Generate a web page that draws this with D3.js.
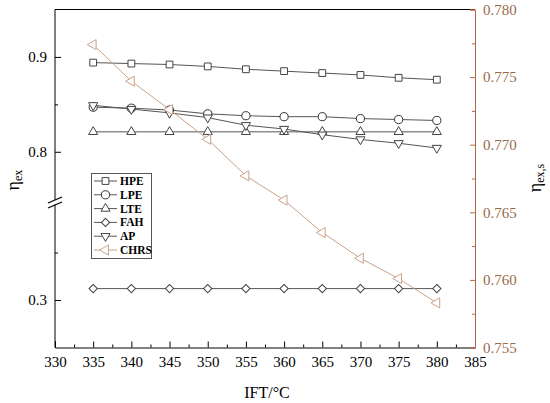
<!DOCTYPE html>
<html>
<head>
<meta charset="utf-8">
<script src="https://cdn.jsdelivr.net/npm/d3@7"></script>
<style>
  body { margin: 0; background: #fff; }
  svg text { font-family: "Liberation Serif", "Times New Roman", serif; }
</style>
</head>
<body>
<svg id="chart" width="550" height="403"></svg>
<script>
// data
var ift = [335, 340, 345, 350, 355, 360, 365, 370, 375, 380];
var hpe = [0.894, 0.893, 0.892, 0.890, 0.887, 0.885, 0.883, 0.881, 0.878, 0.876];
var lpe = [0.847, 0.846, 0.844, 0.840, 0.838, 0.837, 0.837, 0.835, 0.834, 0.833];
var lte = [0.821, 0.821, 0.821, 0.821, 0.821, 0.821, 0.821, 0.821, 0.821, 0.821];
var fah = [0.312, 0.312, 0.312, 0.312, 0.312, 0.312, 0.312, 0.312, 0.312, 0.312];
var ap = [0.849, 0.845, 0.841, 0.836, 0.828, 0.824, 0.818, 0.813, 0.809, 0.804];
var chrs = [0.7774, 0.7747, 0.7726, 0.7704, 0.7677, 0.7659, 0.7635, 0.7616, 0.7601, 0.7583];

var xTicks = [330, 335, 340, 345, 350, 355, 360, 365, 370, 375, 380, 385];
var leftTicks = [0.3, 0.8, 0.9];
var leftMinor = [0.35, 0.85];
var rightTicks = [0.755, 0.760, 0.765, 0.770, 0.775, 0.780];

var svg = d3.select("#chart");
var pL = 55, pR = 475, pT = 9.5, pB = 347.5;
var rightColor = "#b5654a", rightText = "#9a6a4c", chrsColor = "#c9a38a";

var x = d3.scaleLinear().domain([330, 385]).range([pL, pR]);
// broken left axis: lower part 0.25..0.4, upper part 0.75..0.95
var yL = d3.scaleLinear().domain([0.25, 0.4, 0.75, 0.95]).range([pB, 205, 199.2, pT]);
var yR = d3.scaleLinear().domain([0.755, 0.780]).range([pB, pT]);

// x axis
var gx = svg.append("g").attr("transform", "translate(0," + pB + ")");
gx.call(d3.axisBottom(x).tickValues(xTicks).tickSize(-6).tickPadding(9).tickFormat(d3.format("d")));
gx.append("g").call(d3.axisBottom(x).tickValues(d3.range(332.5, 385, 5)).tickSize(-3).tickFormat(""))
  .select(".domain").remove();
gx.selectAll("text").attr("font-size", 15).attr("fill", "#000");
gx.selectAll("line,path").attr("stroke", "#000");

// top border
svg.append("line").attr("x1", pL).attr("x2", pR).attr("y1", pT).attr("y2", pT)
  .attr("stroke", "#000");

// left axis (broken)
var gl = svg.append("g").attr("transform", "translate(" + pL + ",0)");
gl.call(d3.axisLeft(yL).tickValues(leftTicks).tickSize(-6).tickPadding(8).tickFormat(d3.format(".1f")));
gl.append("g").call(d3.axisLeft(yL).tickValues(leftMinor).tickSize(-3).tickFormat(""));
gl.selectAll(".domain").remove();
gl.selectAll("text").attr("font-size", 15).attr("fill", "#000");
gl.selectAll("line").attr("stroke", "#000");
gl.append("line").attr("x1", 0).attr("x2", 0).attr("y1", pT).attr("y2", 200).attr("stroke", "#000");
gl.append("line").attr("x1", 0).attr("x2", 0).attr("y1", 204.5).attr("y2", pB).attr("stroke", "#000");
[200, 205].forEach(function (cy) {
  gl.append("line").attr("x1", -7).attr("y1", cy + 3).attr("x2", 7).attr("y2", cy - 3)
    .attr("stroke", "#000").attr("stroke-width", 1.3);
});

// right axis
var gr = svg.append("g").attr("transform", "translate(" + pR + ",0)");
gr.call(d3.axisRight(yR).tickValues(rightTicks).tickSize(-5).tickPadding(8).tickFormat(d3.format(".3f")));
gr.append("g").call(d3.axisRight(yR).tickValues(d3.range(0.7575, 0.780, 0.005)).tickSize(-3).tickFormat(""))
  .select(".domain").remove();
gr.selectAll("line,path").attr("stroke", rightColor);
gr.selectAll("text").attr("font-size", 15).attr("fill", rightText);

// axis titles
svg.append("text").attr("x", 267).attr("y", 398).attr("text-anchor", "middle")
  .attr("font-size", 16).text("IFT/°C");
var tl = svg.append("text").attr("transform", "translate(19,180) rotate(-90)")
  .attr("text-anchor", "middle").attr("font-size", 18);
tl.append("tspan").text("η");
tl.append("tspan").attr("font-size", 12).attr("dy", 3).text("ex");
var tr = svg.append("text").attr("transform", "translate(541,178) rotate(-90)")
  .attr("text-anchor", "middle").attr("font-size", 18);
tr.append("tspan").text("η");
tr.append("tspan").attr("font-size", 12).attr("dy", 3).text("ex,s");

// symbols
var sym = {
  square: { type: d3.symbolSquare, size: 46, rot: 0 },
  circle: { type: d3.symbolCircle, size: 52, rot: 0 },
  up: { type: d3.symbolTriangle, size: 36, rot: 0 },
  diamond: { type: d3.symbolSquare, size: 34, rot: 45 },
  down: { type: d3.symbolTriangle, size: 36, rot: 180 },
  left: { type: d3.symbolTriangle, size: 44, rot: -90 }
};

var series = [
  { name: "HPE", vals: hpe, y: yL, sym: "square", color: "#444", line: "#555" },
  { name: "LPE", vals: lpe, y: yL, sym: "circle", color: "#333", line: "#555" },
  { name: "LTE", vals: lte, y: yL, sym: "up", color: "#444", line: "#555" },
  { name: "FAH", vals: fah, y: yL, sym: "diamond", color: "#444", line: "#555" },
  { name: "AP", vals: ap, y: yL, sym: "down", color: "#444", line: "#555" },
  { name: "CHRS", vals: chrs, y: yR, sym: "left", color: chrsColor, line: chrsColor }
];

function symPath(s) {
  return d3.symbol().type(sym[s].type).size(sym[s].size)();
}

series.forEach(function (s) {
  var g = svg.append("g");
  var pts = ift.map(function (t, i) { return [x(t), s.y(s.vals[i])]; });
  g.append("path").attr("d", d3.line()(pts)).attr("fill", "none")
    .attr("stroke", s.line).attr("stroke-width", 1);
  g.selectAll("path.m").data(pts).enter().append("path").attr("class", "m")
    .attr("d", symPath(s.sym))
    .attr("transform", function (p) { return "translate(" + p[0] + "," + p[1] + ") rotate(" + sym[s.sym].rot + ")"; })
    .attr("fill", "#fff").attr("stroke", s.color).attr("stroke-width", 1);
});

// legend
var lg = svg.append("g");
lg.append("rect").attr("x", 91.5).attr("y", 173.5).attr("width", 60).attr("height", 85)
  .attr("fill", "#fff").attr("stroke", "#555");
series.forEach(function (s, i) {
  var cy = 181 + i * 13.8;
  lg.append("line").attr("x1", 94).attr("x2", 117).attr("y1", cy).attr("y2", cy)
    .attr("stroke", s.line);
  lg.append("path").attr("d", symPath(s.sym))
    .attr("transform", "translate(105.5," + cy + ") rotate(" + sym[s.sym].rot + ")")
    .attr("fill", "#fff").attr("stroke", s.color);
  lg.append("text").attr("x", 120).attr("y", cy + 4).attr("font-size", 11.5)
    .attr("font-weight", "bold").text(s.name);
});
</script>
</body>
</html>
